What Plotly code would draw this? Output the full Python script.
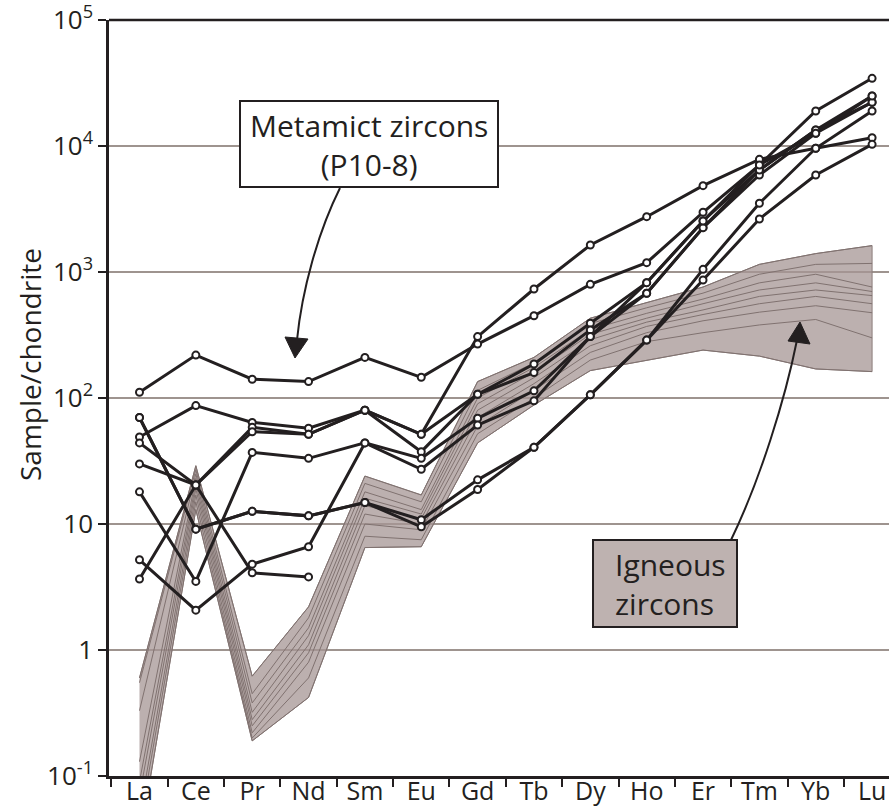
import plotly.graph_objects as go

# ---------------- data ----------------
elements = ["La", "Ce", "Pr", "Nd", "Sm", "Eu", "Gd", "Tb", "Dy", "Ho", "Er", "Tm", "Yb", "Lu"]

# Metamict zircons (P10-8), chondrite-normalised
metamict_a = [111, 219, 141, 135, 210, 146, 268, 450, 798, 1186, 2978, 7063, 18950, 34450]
metamict_b = [49, 87, 64, 57.5, 80, 51.5, 307, 733, 1637, 2748, 4842, 7837, 9590, 11640]
metamict_c = [44, 20.4, 58.5, 51.5, 80, 51.5, 107, 186, 392, 823, 2541, 6450, 13400, 24930]
metamict_d = [30, 20.4, 54, 51.5, 80, 37.5, 107, 159, 347, 678, 2248, 5890, 12620, 22230]
metamict_e = [18, 3.5, 37, 33.2, 44, 33.2, 69, 114, 307, 678, 2248, 6450, 13400, 22230]
metamict_f = [5.2, 2.07, 4.8, 6.6, 44, 27.2, 61, 95, 307, 823, 2541, 7063, 12620, 24930]
metamict_g = [70, 9.1, 12.6, 11.6, 14.8, 10.8, 22.4, 40.6, 106, 288, 1050, 3510, 9590, 18950]
metamict_h = [70, 9.1, 12.6, 11.6, 14.8, 9.5, 18.8, 40.6, 106, 288, 864, 2635, 5890, 10310]
metamict_i = [3.66, 20.4, 4.1, 3.8, None, None, None, None, None, None, None, None, None, None]
metamict_series = [metamict_a, metamict_b, metamict_c, metamict_d, metamict_e,
                   metamict_f, metamict_g, metamict_h, metamict_i]

# Igneous zircons (reference field)
igneous_1 = [0.60, 29, 0.62, 2.2, 24, 17, 135, 210, 430, 570, 760, 1150, 1400, 1620]
igneous_2 = [0.55, 27, 0.45, 1.8, 21, 15, 115, 190, 390, 520, 680, 960, 1150, 1170]
igneous_3 = [0.33, 25, 0.38, 1.5, 18, 13, 100, 175, 350, 470, 610, 820, 960, 760]
igneous_4 = [0.13, 23, 0.32, 1.3, 16, 12, 90, 160, 320, 430, 560, 720, 820, 700]
igneous_5 = [0.09, 21, 0.28, 1.1, 14, 11, 80, 145, 290, 400, 500, 640, 720, 650]
igneous_6 = [0.07, 19, 0.25, 0.95, 12, 10, 70, 130, 260, 370, 460, 560, 640, 560]
igneous_7 = [0.05, 17, 0.22, 0.8, 10, 9, 60, 115, 230, 330, 410, 480, 540, 475]
igneous_8 = [0.04, 15, 0.20, 0.6, 8, 7.5, 52, 100, 200, 280, 330, 380, 420, 300]
igneous_9 = [0.03, 13, 0.19, 0.42, 6.5, 6.6, 44, 88, 165, 200, 240, 215, 170, 162]
igneous_series = [igneous_1, igneous_2, igneous_3, igneous_4, igneous_5,
                  igneous_6, igneous_7, igneous_8, igneous_9]

y_tickvals = [0.1, 1, 10, 100, 1000, 10000, 100000]
y_ticktext = ["10<sup>-1</sup>", "1", "10", "10<sup>2</sup>", "10<sup>3</sup>",
              "10<sup>4</sup>", "10<sup>5</sup>"]

# ---------------- layout helpers ----------------
W, H = 889, 807
ML, MR, MT, MB = 109, 0, 20, 31
PW, PH = W - ML - MR, H - MT - MB


def px(x):
    return (x - ML) / PW


def py(y):
    return (H - MB - y) / PH


FONT = "Open Sans, Noto Sans, sans-serif"
INK = "#231f20"

fig = go.Figure()

# igneous envelope
upper = [max(s[i] for s in igneous_series) for i in range(len(elements))]
lower = [min(s[i] for s in igneous_series) for i in range(len(elements))]
fig.add_trace(go.Scatter(
    x=elements + elements[::-1], y=upper + lower[::-1],
    fill="toself", fillcolor="rgba(166,150,148,0.75)",
    line=dict(color="rgb(140,126,124)", width=1),
    mode="lines", hoverinfo="skip"))
for s in igneous_series:
    fig.add_trace(go.Scatter(x=elements, y=s, mode="lines",
                             line=dict(color="rgb(128,114,112)", width=1),
                             hoverinfo="skip"))

# metamict lines, then markers on top
for s in metamict_series:
    fig.add_trace(go.Scatter(x=elements, y=s, mode="lines",
                             line=dict(color=INK, width=3), connectgaps=False))
for s in metamict_series:
    fig.add_trace(go.Scatter(x=elements, y=s, mode="markers",
                             marker=dict(symbol="circle", size=7, color="white",
                                         line=dict(color=INK, width=2))))

shapes = []
# top frame line
shapes.append(dict(type="line", xref="paper", yref="paper", x0=0, x1=1, y0=1, y1=1,
                   line=dict(color=INK, width=2.5), layer="above"))
# metamict box
shapes.append(dict(type="rect", xref="paper", yref="paper",
                   x0=px(240), x1=px(498), y0=py(187), y1=py(101),
                   fillcolor="white", line=dict(color=INK, width=2), layer="above"))
# igneous box
shapes.append(dict(type="rect", xref="paper", yref="paper",
                   x0=px(593), x1=px(737), y0=py(627), y1=py(540),
                   fillcolor="rgb(190,178,176)", line=dict(color=INK, width=2), layer="above"))


def curve(p0, p1, p2, p3):
    return "M {},{} C {},{} {},{} {},{}".format(px(p0[0]), py(p0[1]), px(p1[0]), py(p1[1]),
                                                 px(p2[0]), py(p2[1]), px(p3[0]), py(p3[1]))


def tri(a, b, c):
    return "M {},{} L {},{} L {},{} Z".format(px(a[0]), py(a[1]), px(b[0]), py(b[1]),
                                               px(c[0]), py(c[1]))


shapes.append(dict(type="path", xref="paper", yref="paper",
                   path=curve((340, 188), (318, 232), (302, 290), (297, 340)),
                   line=dict(color=INK, width=2), layer="above"))
shapes.append(dict(type="path", xref="paper", yref="paper",
                   path=tri((285, 337), (308, 339), (295, 358)),
                   fillcolor=INK, line=dict(color=INK, width=1), layer="above"))
shapes.append(dict(type="path", xref="paper", yref="paper",
                   path=curve((731, 540), (760, 480), (785, 400), (797, 340)),
                   line=dict(color=INK, width=2), layer="above"))
shapes.append(dict(type="path", xref="paper", yref="paper",
                   path=tri((788, 341), (810, 344), (800, 322)),
                   fillcolor=INK, line=dict(color=INK, width=1), layer="above"))

annotations = [
    dict(xref="paper", yref="paper", x=px(369), y=py(145), xanchor="center", yanchor="middle",
         showarrow=False, text="Metamict zircons<br>(P10-8)", align="center",
         font=dict(family=FONT, size=30, color=INK)),
    dict(xref="paper", yref="paper", x=px(613), y=py(584), xanchor="left", yanchor="middle",
         showarrow=False, text="Igneous<br>zircons", align="left",
         font=dict(family=FONT, size=30, color=INK)),
    dict(xref="paper", yref="paper", x=px(30), y=py(365), xanchor="center", yanchor="middle",
         showarrow=False, text="Sample/chondrite", textangle=-90,
         font=dict(family=FONT, size=28, color=INK)),
]

fig.update_layout(
    width=W, height=H,
    margin=dict(l=ML, r=MR, t=MT, b=MB, autoexpand=False),
    paper_bgcolor="white", plot_bgcolor="white",
    showlegend=False,
    font=dict(family=FONT, color=INK),
    shapes=shapes, annotations=annotations,
    xaxis=dict(type="category", categoryorder="array", categoryarray=elements,
               range=[-0.541, 13.30], showline=True, linecolor=INK, linewidth=2.5,
               ticks="outside", tickson="boundaries", ticklen=8, tickwidth=1.5, tickcolor=INK,
               ticklabelstandoff=-9, ticklabeloverflow="allow",
               showgrid=False, zeroline=False, tickfont=dict(family=FONT, size=25, color=INK)),
    yaxis=dict(type="log", range=[-1.0001, 5.0001], tickvals=y_tickvals, ticktext=y_ticktext,
               showline=True, linecolor=INK, linewidth=2.5, ticklabeloverflow="allow",
               ticks="outside", ticklen=8, tickwidth=1.5, tickcolor=INK,
               showgrid=True, gridcolor="rgb(158,148,143)", gridwidth=2, zeroline=False,
               tickfont=dict(family=FONT, size=26, color=INK)),
)

fig.write_html("out.html", config={"displayModeBar": False},
               post_script="document.body.style.margin='0';document.body.style.overflow='hidden';")
